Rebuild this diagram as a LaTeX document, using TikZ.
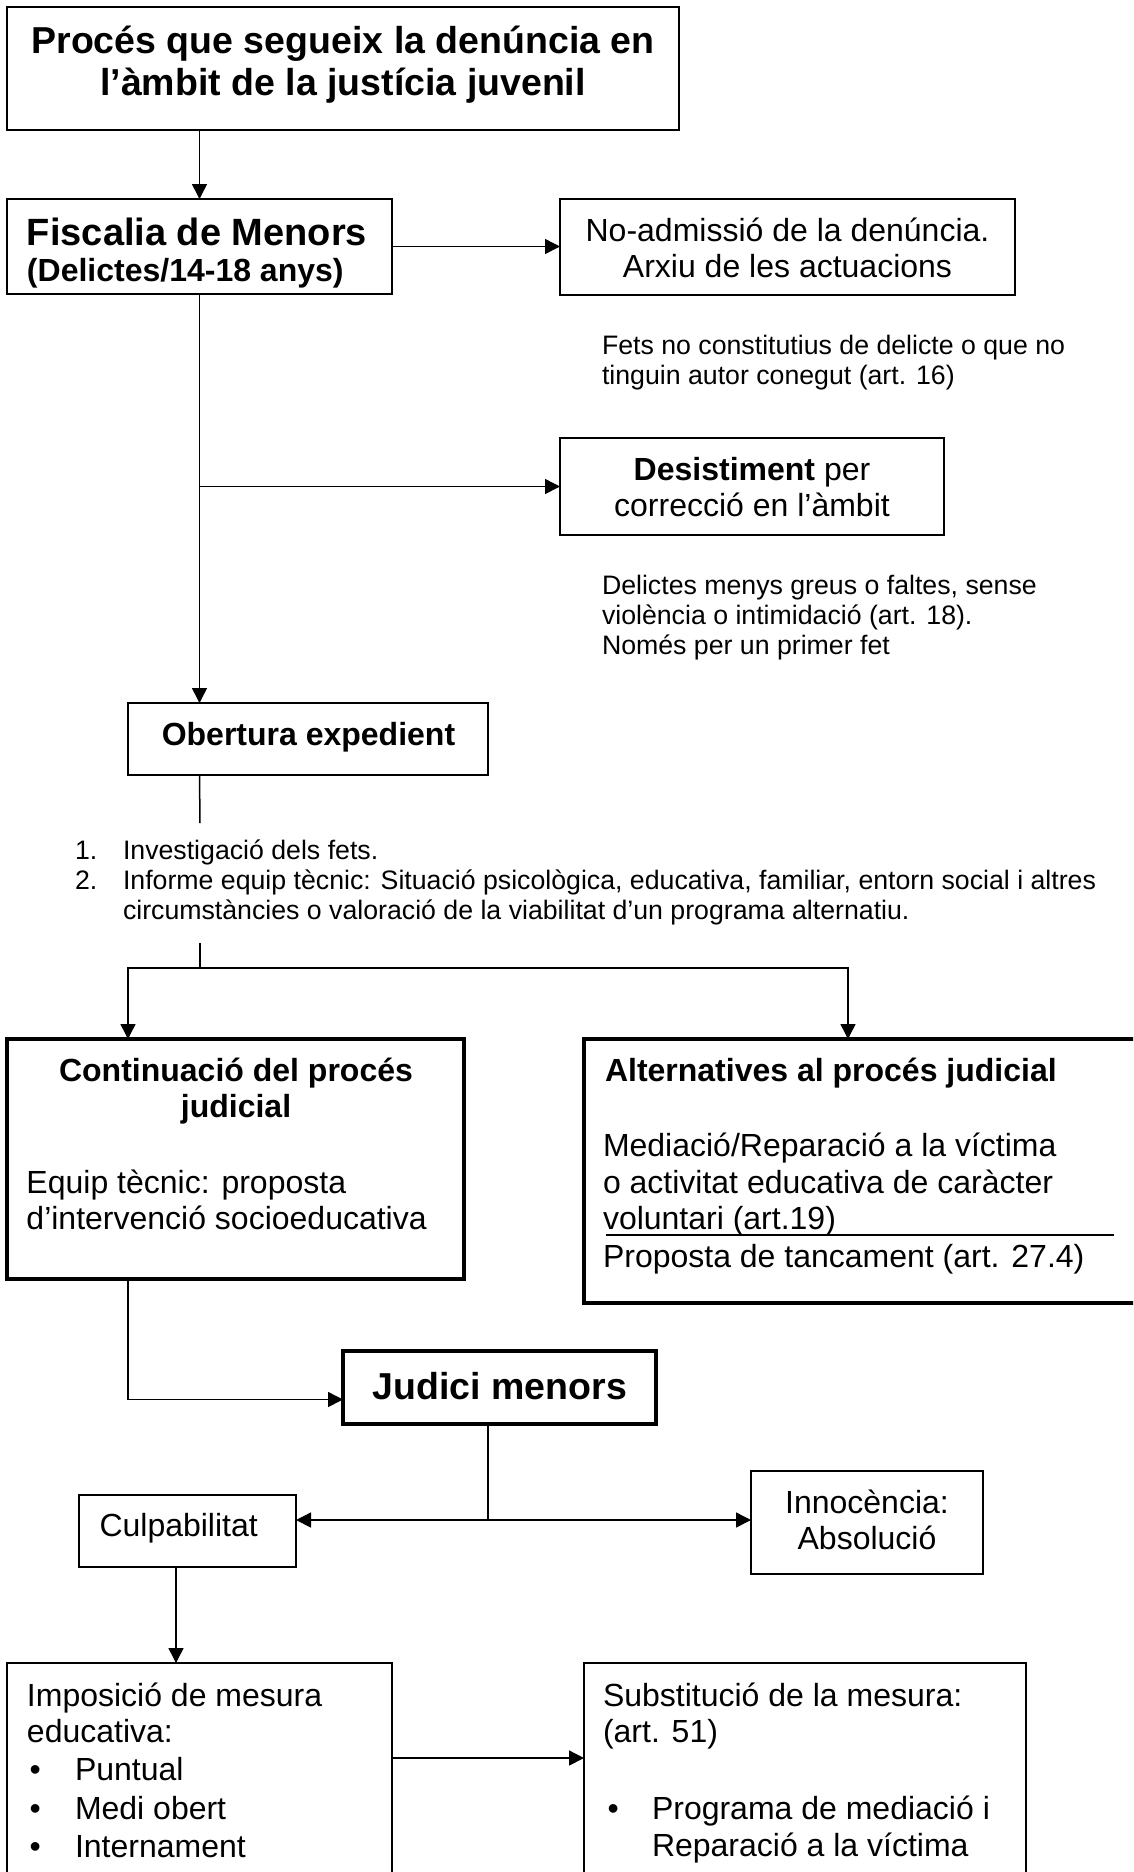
\documentclass[tikz,border=0pt]{standalone}
\usepackage{fontspec}
\setmainfont{Liberation Sans}
\usepackage{tikz}
\usetikzlibrary{arrows.meta}
\def\ftitle{\fontsize{37.5}{42}\selectfont\bfseries}
\def\fbody{\fontsize{32}{36}\selectfont}
\def\fnote{\fontsize{26.7}{30}\selectfont}
\tikzset{
	box/.style={draw, rectangle, inner sep=0pt, outer sep=0pt, line width=1.8pt, anchor=north west},
	heavybox/.style={box, line width=3.6pt},
	conn/.style={line width=1.5pt},
	arr/.style={conn, -{Triangle[length=15pt, width=15pt]}},
	txt/.style={inner sep=0pt, outer sep=0pt, anchor=base west}
}
\begin{document}
\begin{tikzpicture}[x=1pt, y=-1pt]
			%%%%% START %%%%%
			\useasboundingbox (0,0) rectangle (1133,1872);
			\clip (0,0) rectangle (1133,1872);
			
			\node[box, line width=2.2pt, minimum width=672pt, minimum height=123pt] (title) at (7,7) {};
			\node[txt, anchor=base] (titletxt) at (343,53) {\parbox[t]{660pt}{\centering\ftitle Procés que segueix la denúncia en\\l’àmbit de la justícia juvenil}};
			
			\node[box, line width=2.2pt, minimum width=385pt, minimum height=95pt] (fisc) at (7,199) {};
			\node[txt] (fisctxt) at (27,245) {\parbox[t]{360pt}{\fontsize{38}{36}\selectfont\bfseries Fiscalia de Menors\\\fontsize{32}{36}\selectfont (Delictes/14-18 anys)}};
			
			\node[box, line width=2.2pt, minimum width=455pt, minimum height=96pt] (noadm) at (560,199) {};
			\node[txt, anchor=base] (noadmtxt) at (787.5,241.5) {\parbox[t]{440pt}{\centering\fbody No-admissió de la denúncia.\\Arxiu de les actuacions}};
			\node[txt] (note1) at (602,354.6) {\parbox[t]{520pt}{\fnote Fets no constitutius de delicte o que no\\tinguin autor conegut (art. 16)}};
			
			\node[box, minimum width=384pt, minimum height=97pt] (desist) at (560,438) {};
			\node[txt, anchor=base] (desisttxt) at (752,480) {\parbox[t]{370pt}{\centering\fbody\textbf{Desistiment} per\\correcció en l’àmbit}};
			\node[txt] (note2) at (602,594.6) {\parbox[t]{520pt}{\fnote Delictes menys greus o faltes, sense\\violència o intimidació (art. 18).\\Només per un primer fet}};
			
			\node[box, minimum width=360pt, minimum height=72pt] (obert) at (128,703) {};
			\node[txt, anchor=base] (oberttxt) at (308.5,745) {\fbody\bfseries Obertura expedient};
			
			\node[txt] (listnum) at (75,859.6) {\parbox[t]{40pt}{\fnote 1.\\2.}};
			\node[txt] (listtxt) at (123,859.6) {\parbox[t]{1000pt}{\fnote Investigació dels fets.\\Informe equip tècnic: Situació psicològica, educativa, familiar, entorn social i altres\\circumstàncies o valoració de la viabilitat d’un programa alternatiu.}};
			
			\node[heavybox, minimum width=457pt, minimum height=240pt] (cont) at (7,1039) {};
			\node[txt, anchor=base] (conttitle) at (236,1081.5) {\parbox[t]{440pt}{\centering\fbody\bfseries Continuació del procés\\judicial}};
			\node[txt] (contbody) at (26.5,1193.5) {\parbox[t]{430pt}{\fbody Equip tècnic: proposta\\d’intervenció socioeducativa}};
			
			\node[heavybox, minimum width=570pt, minimum height=264pt] (alt) at (584,1039) {};
			\node[txt] (alttitle) at (605,1081.5) {\fbody\bfseries Alternatives al procés judicial};
			\node[txt] (altbody) at (603,1156.5) {\parbox[t]{520pt}{\fontsize{32}{36.5}\selectfont Mediació/Reparació a la víctima\\o activitat educativa de caràcter\\voluntari (art.19)}};
			\draw[line width=1.2pt] (606,1235) -- (1114,1235);
			\node[txt] (altclose) at (603,1267) {\fbody Proposta de tancament (art. 27.4)};
			
			\node[heavybox, minimum width=313pt, minimum height=73pt] (judici) at (343,1351) {};
			\node[txt, anchor=base] (judicitxt) at (500,1399.5) {\ftitle Judici menors};
			
			\node[box, minimum width=217pt, minimum height=72pt] (culp) at (79,1495) {};
			\node[txt] (culptxt) at (99.5,1536.5) {\fbody Culpabilitat};
			
			\node[box, minimum width=232pt, minimum height=103pt] (innoc) at (751,1471) {};
			\node[txt, anchor=base] (innoctxt) at (867,1513.5) {\parbox[t]{220pt}{\centering\fbody Innocència:\\Absolució}};
			
			\node[box, minimum width=385pt, minimum height=240pt] (impos) at (7,1663) {};
			\node[txt] (impostxt) at (27,1706) {\parbox[t]{360pt}{\fbody Imposició de mesura\\educativa:}};
			\node[txt] (imposbul) at (29.5,1780.5) {\parbox[t]{30pt}{\fontsize{32}{38.5}\selectfont •\\•\\•}};
			\node[txt] (impositem) at (75,1780.5) {\parbox[t]{300pt}{\fontsize{32}{38.5}\selectfont Puntual\\Medi obert\\Internament}};
			
			\node[box, minimum width=442pt, minimum height=240pt] (subst) at (584,1663) {};
			\node[txt] (substtxt) at (603,1706) {\parbox[t]{420pt}{\fbody Substitució de la mesura:\\(art. 51)}};
			\node[txt] (substbul) at (607.5,1819) {\fbody •};
			\node[txt] (substitem) at (652,1819) {\parbox[t]{370pt}{\fontsize{32}{37}\selectfont Programa de mediació i\\Reparació a la víctima}};
			
			%%%%% CONNECTORS %%%%%
			\coordinate (gap1) at (200,823);
			\coordinate (gap2) at (200,943);
			\coordinate (fork) at (200,968);
			\coordinate (forkL) at (128,968);
			\coordinate (forkR) at (848,968);
			\coordinate (verdict) at (488,1520);
			
			\draw[arr] (fisc.north |- title.south) -- (fisc.north);
			\draw[arr] (fisc.east) -- (fisc.east -| noadm.west);
			\draw[arr] (fisc.south) -- (fisc.south |- obert.north);
			\draw[arr] (fisc.south |- desist.west) -- (desist.west);
			\draw[conn] (fisc.south |- obert.south) -- (gap1);
			\draw[conn] (gap2) -- (fork);
			\draw[arr] (fork) -| (forkL |- cont.north);
			\draw[arr] (fork) -| (forkR |- alt.north);
			\draw[arr] (forkL |- cont.south) |- ([yshift=-12pt]judici.west);
			\draw[conn] (verdict |- judici.south) -- (verdict);
			\draw[arr] (verdict) -- (verdict -| culp.east);
			\draw[arr] (verdict) -- (verdict -| innoc.west);
			\draw[arr] ([xshift=-11.5pt]culp.south) -- ([xshift=-11.5pt]culp.south |- impos.north);
			\draw[arr] ([yshift=-95pt]impos.north east) -- ([yshift=-95pt]subst.north west);
			%%%%% END %%%%%
\end{tikzpicture}
\end{document}
